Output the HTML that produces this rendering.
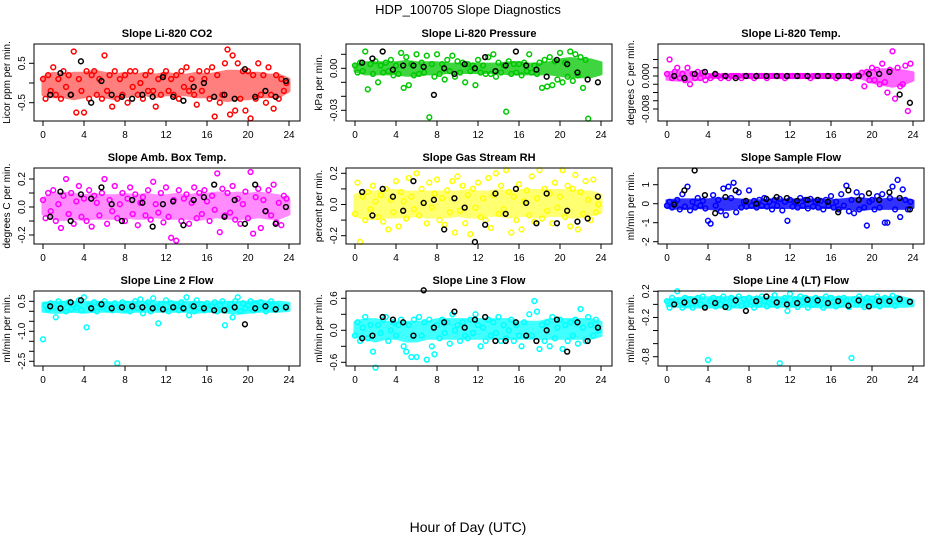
<!DOCTYPE html>
<html><head><meta charset="utf-8"><style>
html,body{margin:0;padding:0;background:#fff}
svg text{font-family:"Liberation Sans",sans-serif}
</style></head><body>
<svg id="chart" width="936" height="540" xmlns="http://www.w3.org/2000/svg">
<text x="468" y="14" text-anchor="middle" font-size="13">HDP_100705  Slope Diagnostics</text>
<text x="468" y="532" text-anchor="middle" font-size="14">Hour of Day (UTC)</text>
</svg>
<script>
const hoursC=[0,0.25,0.5,0.75,1,1.25,1.5,1.75,2,2.25,2.5,2.75,3,3.25,3.5,3.75,4,4.25,4.5,4.75,5,5.25,5.5,5.75,6,6.25,6.5,6.75,7,7.25,7.5,7.75,8,8.25,8.5,8.75,9,9.25,9.5,9.75,10,10.25,10.5,10.75,11,11.25,11.5,11.75,12,12.25,12.5,12.75,13,13.25,13.5,13.75,14,14.25,14.5,14.75,15,15.25,15.5,15.75,16,16.25,16.5,16.75,17,17.25,17.5,17.75,18,18.25,18.5,18.75,19,19.25,19.5,19.75,20,20.25,20.5,20.75,21,21.25,21.5,21.75,22,22.25,22.5,22.75,23,23.25,23.5,23.75];
const hoursB=[0.7,1.7,2.7,3.7,4.7,5.7,6.7,7.7,8.7,9.7,10.7,11.7,12.7,13.7,14.7,15.7,16.7,17.7,18.7,19.7,20.7,21.7,22.7,23.7];
const hoursBand=[0,1,2,3,4,5,6,7,8,9,10,11,12,13,14,15,16,17,18,19,20,21,22,23,24];
const xTicks=[0,4,8,12,16,20,24];

const co2=[0.1,-0.4,0.2,-0.2,0.4,-0.3,0.1,-0.4,0.3,-0.1,0.2,-0.3,0.8,-0.75,0.1,-0.2,-0.75,0.3,-0.4,0.2,0.3,-0.3,0.1,-0.4,0.7,-0.2,0.2,-0.6,0.3,-0.4,0.1,-0.3,0.2,-0.5,0.3,-0.1,0.3,-0.3,0.0,-0.4,0.2,-0.2,0.3,-0.2,-0.6,0.1,-0.3,0.2,0.3,-0.2,0.1,-0.3,0.2,-0.4,0.3,-0.1,0.4,-0.2,0.1,-0.3,-0.55,0.3,-0.2,0.1,0.3,-0.4,0.4,-0.85,0.2,-0.5,-0.3,0.5,0.85,-0.8,0.7,-0.7,0.5,-0.4,0.3,-0.7,0.3,-0.9,0.2,-0.4,0.5,-0.3,0.2,-0.5,0.4,-0.3,-0.65,0.2,-0.4,0.1,-0.2,0.0];
const co2Black=[-0.3,0.25,-0.3,0.55,-0.5,0.05,-0.3,-0.35,-0.4,-0.3,-0.35,0.15,-0.35,-0.45,-0.1,0.0,-0.35,-0.3,-0.4,0.35,-0.35,-0.2,-0.35,0.05];
const co2BandLo=[-0.3,-0.35,-0.35,-0.4,-0.35,-0.3,-0.35,-0.4,-0.35,-0.3,-0.3,-0.35,-0.3,-0.3,-0.3,-0.35,-0.35,-0.4,-0.45,-0.4,-0.4,-0.35,-0.35,-0.35,-0.2];
const co2BandHi=[0.15,0.25,0.2,0.25,0.25,0.3,0.25,0.2,0.25,0.2,0.25,0.2,0.25,0.2,0.2,0.25,0.2,0.25,0.3,0.3,0.25,0.25,0.2,0.2,0.1];
const pres=[0.002,-0.003,0.004,-0.002,0.012,-0.015,0.003,-0.004,0.005,-0.010,0.002,-0.003,0.004,-0.002,0.006,-0.005,0.002,-0.004,0.011,-0.014,0.008,-0.012,0.003,-0.005,0.010,-0.004,0.004,-0.003,0.009,-0.035,0.003,-0.006,0.010,-0.004,0.003,-0.008,0.006,-0.002,0.009,-0.006,0.005,-0.003,0.004,-0.010,0.003,-0.002,0.002,-0.012,0.006,-0.003,0.002,-0.004,0.008,-0.004,0.010,-0.006,0.004,-0.003,0.002,-0.031,0.005,-0.004,0.003,-0.003,0.003,-0.005,0.004,-0.002,0.010,-0.003,0.002,-0.004,0.004,-0.014,0.006,-0.013,0.008,-0.012,0.005,-0.008,0.011,-0.010,0.004,-0.006,0.012,-0.009,0.010,-0.005,0.008,-0.014,0.006,-0.036];
const presBlack=[0.004,0.007,0.012,-0.001,0.002,0.002,0.001,-0.019,0.000,-0.004,0.003,0.000,0.008,-0.002,0.002,0.012,0.002,-0.001,-0.006,0.006,0.003,-0.003,-0.008,-0.010];
const presBandLo=[-0.002,-0.004,-0.004,-0.004,-0.004,-0.005,-0.005,-0.004,-0.004,-0.003,-0.003,-0.003,-0.003,-0.003,-0.003,-0.004,-0.004,-0.004,-0.004,-0.004,-0.005,-0.006,-0.006,-0.006,-0.004];
const presBandHi=[0.002,0.004,0.004,0.004,0.004,0.005,0.004,0.004,0.004,0.003,0.003,0.003,0.003,0.003,0.003,0.004,0.004,0.003,0.003,0.004,0.006,0.007,0.006,0.006,0.004];
const temp=[0.0005,0.004,-0.0005,0.001,0.002,-0.0005,0.0005,-0.001,0.002,-0.002,0.0005,-0.0005,0.001,-0.0005,0.0008,-0.001,0,-0.0005,0,0.0003,0,-0.0005,0,0,-0.0005,0,0,0,0,-0.0005,0,0,0,0,-0.0005,0,0,0,0,-0.0005,0,0,0,0,0,0,-0.0005,0,0,0,0,0,0,0,0,0,-0.0005,0,0,0,0,0,0,0,0,0,-0.0005,0,0,0,0,0,-0.0005,0,0,0,0.0008,-0.0025,0.001,-0.001,0.002,-0.001,0.0015,-0.002,0.003,-0.0015,-0.004,0.0015,0.006,-0.0055,0.002,-0.0025,-0.002,0.0025,-0.0085,0.003];
const tempBlack=[0,-0.0005,0.0005,0.001,0.0005,0,-0.0005,0,0,0,0,0,0,0,0,0,0,0,0,0.0005,0.0005,0.001,-0.0045,-0.0065];
const tempBandLo=[-0.0008,-0.001,-0.001,-0.0008,-0.0003,-0.0003,-0.0003,-0.0003,-0.0003,-0.0003,-0.0003,-0.0003,-0.0003,-0.0003,-0.0003,-0.0003,-0.0003,-0.0003,-0.0003,-0.0005,-0.0015,-0.002,-0.0025,-0.002,-0.001];
const tempBandHi=[0.0008,0.001,0.001,0.0008,0.0003,0.0003,0.0003,0.0003,0.0003,0.0003,0.0003,0.0003,0.0003,0.0003,0.0003,0.0003,0.0003,0.0003,0.0003,0.0008,0.0012,0.0015,0.0015,0.0012,0.0008];
const amb=[0.05,-0.08,0.1,-0.03,0.12,-0.1,0.02,-0.15,0.08,0.2,-0.05,0.1,-0.12,0.04,0.15,-0.07,0.06,-0.1,0.12,-0.14,0.08,0.03,-0.06,0.1,0.2,-0.12,0.05,-0.03,0.15,-0.08,0.02,0.1,-0.1,0.06,0.14,-0.05,0.09,-0.13,0.03,0.07,-0.06,0.12,-0.09,0.18,0.02,-0.04,0.1,-0.11,0.14,-0.07,-0.22,0.05,-0.24,0.12,-0.1,0.06,0.09,-0.12,0.03,0.14,-0.08,0.1,-0.05,0.12,0.04,-0.1,0.08,-0.02,0.24,-0.18,0.13,-0.06,0.1,-0.04,0.15,-0.09,0.06,-0.12,0.02,0.11,-0.08,0.25,-0.19,0.07,0.13,-0.15,0.05,-0.03,0.12,-0.06,0.16,-0.11,0.03,-0.13,0.08,0.06];
const ambBlack=[-0.07,0.11,-0.1,0.09,0.06,0.14,0.02,-0.1,0.05,0.03,-0.14,0.02,0.04,-0.13,0.05,0.07,0.16,-0.07,0.05,-0.12,0.16,-0.03,-0.12,0.0];
const ambBandLo=[-0.05,-0.08,-0.09,-0.08,-0.09,-0.08,-0.08,-0.08,-0.07,-0.08,-0.08,-0.07,-0.08,-0.08,-0.08,-0.09,-0.08,-0.07,-0.08,-0.08,-0.08,-0.07,-0.08,-0.08,-0.05];
const ambBandHi=[0.06,0.09,0.1,0.09,0.08,0.09,0.08,0.08,0.09,0.08,0.09,0.08,0.08,0.09,0.08,0.09,0.09,0.1,0.09,0.1,0.09,0.1,0.09,0.08,0.05];
const gas=[-0.06,0.14,-0.24,0.05,-0.1,0.08,-0.03,0.12,0.02,-0.08,0.06,-0.11,0.1,-0.16,0.03,-0.05,0.15,-0.14,0.08,0.02,-0.09,0.17,0.05,-0.03,0.2,-0.07,0.1,0.01,-0.12,0.14,-0.02,0.07,0.16,-0.1,0.04,-0.13,0.09,-0.05,0.15,-0.18,0.18,-0.04,0.12,-0.12,0.06,-0.19,0.1,-0.02,0.14,-0.08,0.04,-0.1,0.17,-0.15,0.06,0.2,-0.06,0.12,-0.03,0.22,0.08,-0.18,0.05,-0.1,0.13,-0.16,0.02,0.09,-0.07,0.18,-0.11,0.04,0.22,-0.09,0.1,-0.04,0.07,-0.12,0.14,-0.02,0.05,0.22,-0.08,0.12,-0.14,0.1,0.19,-0.16,0.08,-0.06,0.15,0.03,-0.1,0.16,-0.05,0.0];
const gasBlack=[0.08,-0.07,0.1,0.05,-0.04,0.15,0.01,0.03,-0.16,0.04,-0.02,-0.24,-0.13,0.07,-0.06,0.1,0.01,-0.12,0.07,-0.12,-0.04,-0.11,-0.09,0.05];
const gasBandLo=[-0.07,-0.09,-0.09,-0.08,-0.08,-0.08,-0.07,-0.08,-0.08,-0.08,-0.07,-0.08,-0.08,-0.07,-0.07,-0.08,-0.07,-0.07,-0.08,-0.07,-0.07,-0.08,-0.08,-0.07,-0.05];
const gasBandHi=[0.06,0.08,0.08,0.09,0.09,0.08,0.08,0.08,0.08,0.08,0.08,0.09,0.08,0.08,0.09,0.08,0.09,0.09,0.09,0.09,0.09,0.09,0.08,0.08,0.06];
const sample=[-0.1,0.1,-0.2,0.05,0.2,-0.3,0.5,-0.15,0.9,-0.35,0.1,-0.2,0.3,-0.1,0.15,-0.25,-0.9,-1.05,0.45,-0.1,0.2,-0.4,0.8,-0.6,0.9,0.3,1.1,-0.45,0.6,-0.2,0.1,-0.15,0.7,-0.1,0.15,-0.2,0.2,-0.1,0.3,-0.15,0.1,-0.3,0.2,-0.1,0.25,-0.35,0.1,-0.9,0.2,-0.15,0.1,-0.2,0.3,-0.1,0.2,-0.25,0.25,-0.15,0.1,-0.2,0.15,-0.3,0.2,-0.1,0.4,-0.2,0.1,-0.3,0.5,-0.1,0.95,-0.4,0.2,-0.5,0.6,-0.3,0.4,-0.2,-1.15,0.1,0.2,-0.3,0.4,-0.2,0.5,-1.0,-1.0,0.3,0.9,-0.3,1.25,-0.7,0.75,0.2,-0.3,0.1];
const sampleBlack=[-0.05,0.7,1.75,0.45,-0.5,0.35,0.7,0.15,0.0,0.25,0.35,0.3,0.15,0.2,0.2,0.1,-0.45,0.7,0.2,0.55,0.2,0.6,0.3,-0.3];
const sampleBandLo=[-0.2,-0.25,-0.25,-0.2,-0.25,-0.3,-0.3,-0.2,-0.2,-0.2,-0.2,-0.2,-0.2,-0.2,-0.2,-0.2,-0.2,-0.25,-0.25,-0.3,-0.25,-0.25,-0.25,-0.25,-0.2];
const sampleBandHi=[0.15,0.2,0.2,0.2,0.2,0.25,0.25,0.2,0.15,0.15,0.2,0.2,0.2,0.2,0.2,0.2,0.15,0.2,0.25,0.25,0.2,0.2,0.25,0.25,0.15];
const line2=[-1.4,0.3,0.1,0.4,0.2,-0.3,0.5,0.15,0.35,0.0,0.45,0.1,0.3,0.2,0.55,0.05,0.7,-0.8,0.3,0.1,0.45,0.0,0.35,0.2,0.5,0.1,0.3,0.05,0.4,-2.6,0.2,0.45,0.1,0.35,0.0,0.3,0.5,0.15,0.6,-0.1,0.3,0.45,0.0,0.65,0.2,-0.6,0.35,0.1,0.55,0.0,0.4,0.2,0.3,0.05,0.45,0.1,0.7,-0.2,0.3,0.0,0.55,0.15,0.35,0.05,0.4,0.1,0.25,0.45,0.0,0.3,0.5,-0.7,0.1,0.35,-0.3,0.5,0.7,0.0,0.4,0.15,0.3,0.5,0.05,0.35,0.1,0.45,0.2,0.0,0.35,0.5,0.1,0.3];
const line2Black=[0.25,0.15,0.45,0.55,0.15,0.35,0.15,0.2,0.25,0.2,0.15,0.1,0.2,0.15,0.25,0.15,0.05,0.05,0.2,-0.65,0.15,0.25,0.1,0.2];
const line2BandLo=[0.0,-0.05,-0.05,0.0,-0.05,0.0,0.0,0.0,-0.05,0.0,0.0,0.0,0.0,0.0,0.0,-0.05,0.0,0.0,-0.05,-0.1,-0.05,0.0,0.0,0.0,0.05];
const line2BandHi=[0.4,0.45,0.45,0.45,0.45,0.45,0.45,0.4,0.45,0.45,0.45,0.45,0.45,0.45,0.45,0.45,0.4,0.45,0.45,0.45,0.45,0.5,0.45,0.45,0.4];
const line3=[-0.1,0.15,-0.2,0.05,0.25,-0.15,0.1,-0.4,-0.7,0.1,-0.05,0.2,0.25,-0.2,0.0,0.15,-0.1,0.1,0.2,-0.3,-0.4,0.1,-0.5,0.2,-0.5,0.25,-0.1,0.15,-0.55,0.2,-0.3,-0.45,0.1,-0.15,0.2,-0.05,0.15,-0.25,0.3,0.0,0.1,-0.2,0.15,-0.1,-0.15,0.2,-0.05,0.3,0.1,-0.3,0.05,-0.2,0.2,-0.1,0.15,-0.05,0.25,-0.2,0.1,-0.15,0.0,0.2,-0.2,0.1,-0.1,-0.3,0.15,-0.1,0.3,-0.1,0.55,0.35,-0.35,0.1,-0.2,0.15,-0.3,0.25,-0.15,0.05,0.2,-0.35,0.1,-0.2,0.15,-0.1,0.2,-0.25,0.4,0.05,-0.2,0.25,0.1,-0.1,0.2,0.0];
const line3Black=[-0.15,-0.1,0.25,0.2,0.15,-0.1,0.75,0.05,0.15,0.35,0.05,0.2,0.25,-0.2,-0.2,0.15,-0.1,-0.2,0.0,0.2,-0.4,0.15,-0.2,0.05];
const line3BandLo=[-0.1,-0.15,-0.2,-0.15,-0.15,-0.2,-0.2,-0.15,-0.15,-0.15,-0.15,-0.15,-0.15,-0.15,-0.15,-0.15,-0.15,-0.15,-0.15,-0.15,-0.15,-0.15,-0.15,-0.15,-0.1];
const line3BandHi=[0.15,0.2,0.2,0.15,0.15,0.15,0.15,0.15,0.2,0.2,0.2,0.2,0.2,0.2,0.2,0.2,0.15,0.15,0.15,0.2,0.2,0.2,0.2,0.2,0.15];
const line4=[0.05,-0.05,0.1,0.0,0.2,0.05,-0.05,0.1,0.0,0.08,-0.05,0.05,0.1,0.0,0.12,-0.04,-0.85,0.05,0.1,-0.03,0.08,0.0,0.12,0.03,-0.05,0.1,0.0,0.06,0.12,-0.02,0.08,0.0,0.1,0.04,-0.05,0.09,0.0,0.12,0.05,-0.03,0.08,0.0,0.14,-0.02,-0.9,0.06,0.1,-0.1,0.16,0.0,0.08,-0.04,0.12,0.03,0.1,-0.05,0.06,0.0,0.1,0.02,0.08,-0.05,0.12,0.0,0.1,0.04,-0.03,0.09,0.0,0.1,0.06,-0.04,-0.82,0.08,0.0,0.12,0.05,-0.04,0.1,0.02,0.09,0.0,0.12,-0.03,0.06,0.1,0.0,0.08,0.13,-0.02,0.1,0.05];
const line4Black=[0.0,0.03,0.05,-0.05,0.02,-0.04,0.06,-0.1,0.05,0.12,0.03,0.0,0.02,0.07,0.06,0.02,0.05,-0.02,0.06,-0.03,0.05,0.05,0.08,0.04];
const line4BandLo=[-0.02,-0.03,-0.04,-0.04,-0.04,-0.04,-0.04,-0.04,-0.03,-0.03,-0.03,-0.03,-0.03,-0.03,-0.03,-0.04,-0.04,-0.03,-0.03,-0.03,-0.04,-0.03,-0.03,-0.03,-0.02];
const line4BandHi=[0.06,0.09,0.1,0.1,0.1,0.1,0.1,0.1,0.1,0.1,0.1,0.1,0.1,0.1,0.1,0.1,0.1,0.1,0.1,0.1,0.1,0.1,0.1,0.1,0.06];

const yTicksCO2=[0.5,0,-0.5], yLabCO2=["0.5","","-0.5"];
const yTicksPres=[0.01,0,-0.01,-0.02,-0.03], yLabPres=["","0.00","","","-0.03"];
const yTicksTemp=[0.004,0.002,0,-0.002,-0.004,-0.006,-0.008], yLabTemp=["","","0.000","","","","-0.008"];
const yTicksAmb=[0.2,0.1,0,-0.1,-0.2], yLabAmb=["0.2","","0.0","","-0.2"];
const yTicksGas=[0.2,0.1,0,-0.1,-0.2], yLabGas=["0.2","","0.0","","-0.2"];
const yTicksSample=[1,0,-1,-2], yLabSample=["1","0","-1","-2"];
const yTicksL2=[0.5,0,-0.5,-1,-1.5,-2,-2.5], yLabL2=["0.5","","","-1.0","","","-2.5"];
const yTicksL3=[0.6,0.3,0,-0.3,-0.6], yLabL3=["0.6","","0.0","","-0.6"];
const yTicksL4=[0.2,0,-0.2,-0.4,-0.6,-0.8], yLabL4=["0.2","","-0.2","","","-0.8"];

const panels=[
 {name:"co2",title:"Slope Li-820 CO2",ylab:"Licor ppm per min.",col:0,row:0,c:"#ff0000",op:0.5,d:co2,b:co2Black,lo:co2BandLo,hi:co2BandHi,va:0.5,pa:63.3,vb:-0.5,pb:102.7,t:yTicksCO2,tl:yLabCO2},
 {name:"pressure",title:"Slope Li-820 Pressure",ylab:"kPa per min.",col:1,row:0,c:"#00c800",op:0.75,d:pres,b:presBlack,lo:presBandLo,hi:presBandHi,va:0,pa:68.3,vb:-0.03,pb:110.3,t:yTicksPres,tl:yLabPres},
 {name:"temp",title:"Slope Li-820 Temp.",ylab:"degrees C per min.",col:2,row:0,c:"#ff00ff",op:0.6,d:temp,b:tempBlack,lo:tempBandLo,hi:tempBandHi,va:0,pa:76,vb:-0.008,pb:109,t:yTicksTemp,tl:yLabTemp},
 {name:"amb-box-temp",title:"Slope Amb. Box Temp.",ylab:"degrees C per min.",col:0,row:1,c:"#ff00ff",op:0.45,d:amb,b:ambBlack,lo:ambBandLo,hi:ambBandHi,va:0.2,pa:179,vb:-0.2,pb:235,t:yTicksAmb,tl:yLabAmb},
 {name:"gas-rh",title:"Slope Gas Stream RH",ylab:"percent per min.",col:1,row:1,c:"#ffff00",op:0.55,d:gas,b:gasBlack,lo:gasBandLo,hi:gasBandHi,va:0.2,pa:173.3,vb:-0.2,pb:235.7,t:yTicksGas,tl:yLabGas},
 {name:"sample-flow",title:"Slope Sample Flow",ylab:"ml/min per min.",col:2,row:1,c:"#0000ff",op:0.8,d:sample,b:sampleBlack,lo:sampleBandLo,hi:sampleBandHi,va:1,pa:184.7,vb:-2,pb:241.7,t:yTicksSample,tl:yLabSample},
 {name:"line2-flow",title:"Slope Line 2 Flow",ylab:"ml/min per min.",col:0,row:2,c:"#00ffff",op:0.8,d:line2,b:line2Black,lo:line2BandLo,hi:line2BandHi,va:0.5,pa:301.3,vb:-2.5,pb:361.3,t:yTicksL2,tl:yLabL2},
 {name:"line3-flow",title:"Slope Line 3 Flow",ylab:"ml/min per min.",col:1,row:2,c:"#00ffff",op:0.75,d:line3,b:line3Black,lo:line3BandLo,hi:line3BandHi,va:0.6,pa:298.3,vb:-0.6,pb:362.3,t:yTicksL3,tl:yLabL3},
 {name:"line4-flow",title:"Slope Line 4 (LT) Flow",ylab:"ml/min per min.",col:2,row:2,c:"#00ffff",op:0.8,d:line4,b:line4Black,lo:line4BandLo,hi:line4BandHi,va:0.2,pa:291.3,vb:-0.8,pb:356.7,t:yTicksL4,tl:yLabL4}
];
const colL=[34,346,658], rowT=[44,168,291], rowB=[121,244,366];
const NS="http://www.w3.org/2000/svg";
const svg=document.getElementById('chart');
function mk(tag,attrs,parent){const e=document.createElementNS(NS,tag);for(const k in attrs)e.setAttribute(k,attrs[k]);parent.appendChild(e);return e;}
panels.forEach(p=>{
  const L=colL[p.col],T=rowT[p.row],B=rowB[p.row],W=266;
  const g=mk('g',{},svg);
  
  
  const xs=h=>L+9+h*246/24;
  const ys=v=>p.pa+(v-p.va)*(p.pb-p.pa)/(p.vb-p.va);
  const t=mk('text',{x:L+W/2,y:T-7,'text-anchor':'middle','font-size':11,'font-weight':'bold'},g);
  t.textContent=p.title;
  
  
  let dp='';
  hoursBand.forEach((h,i)=>{dp+=(i?'L':'M')+xs(h).toFixed(1)+','+ys(p.hi[i]).toFixed(1);});
  for(let i=hoursBand.length-1;i>=0;i--){dp+='L'+xs(hoursBand[i]).toFixed(1)+','+ys(p.lo[i]).toFixed(1);}
  const band=mk('path',{d:dp+'Z',fill:p.c,stroke:p.c,'stroke-width':3,'stroke-linejoin':'round',opacity:p.op},g);
  
  
  const pts=mk('g',{fill:'none','stroke-width':1.5},g);
  
  
  p.d.forEach((v,i)=>{const c=mk('circle',{cx:xs(hoursC[i]),cy:ys(v),r:2.4,stroke:p.c},pts);
    
    });
  p.b.forEach((v,i)=>{const c=mk('circle',{cx:xs(hoursB[i]),cy:ys(v),r:2.4,stroke:'#000'},pts);
    
    });
  const box=mk('rect',{x:L,y:T,width:W,height:B-T,fill:'none',stroke:'#000','stroke-width':1},g);
  
  
  const ax=mk('g',{stroke:'#000','stroke-width':1},g);
  
  
  mk('line',{x1:xs(0),x2:xs(24),y1:B,y2:B},ax);
  xTicks.forEach(h=>{mk('line',{x1:xs(h),x2:xs(h),y1:B,y2:B+5},ax);
    const tx=mk('text',{x:xs(h),y:B+17,'text-anchor':'middle','font-size':10,stroke:'none',fill:'#000'},ax);
    tx.textContent=h;
    
    });
  const ay=mk('g',{stroke:'#000','stroke-width':1},g);
  
  
  mk('line',{x1:L,x2:L,y1:ys(p.t[0]),y2:ys(p.t[p.t.length-1])},ay);
  p.t.forEach((v,i)=>{const y=ys(v);mk('line',{x1:L-5,x2:L,y1:y,y2:y},ay);
    if(p.tl[i]){const tx=mk('text',{x:L-9,y:y,'text-anchor':'middle','font-size':10,stroke:'none',fill:'#000',transform:`rotate(-90 ${L-9} ${y})`},ay);
    tx.textContent=p.tl[i];
    
    }});
  const cy=(T+B)/2;
  const yl=mk('text',{x:L-24,y:cy,'text-anchor':'middle','font-size':10,transform:`rotate(-90 ${L-24} ${cy})`},g);
  yl.textContent=p.ylab;
  
  
});
</script>
</body></html>
